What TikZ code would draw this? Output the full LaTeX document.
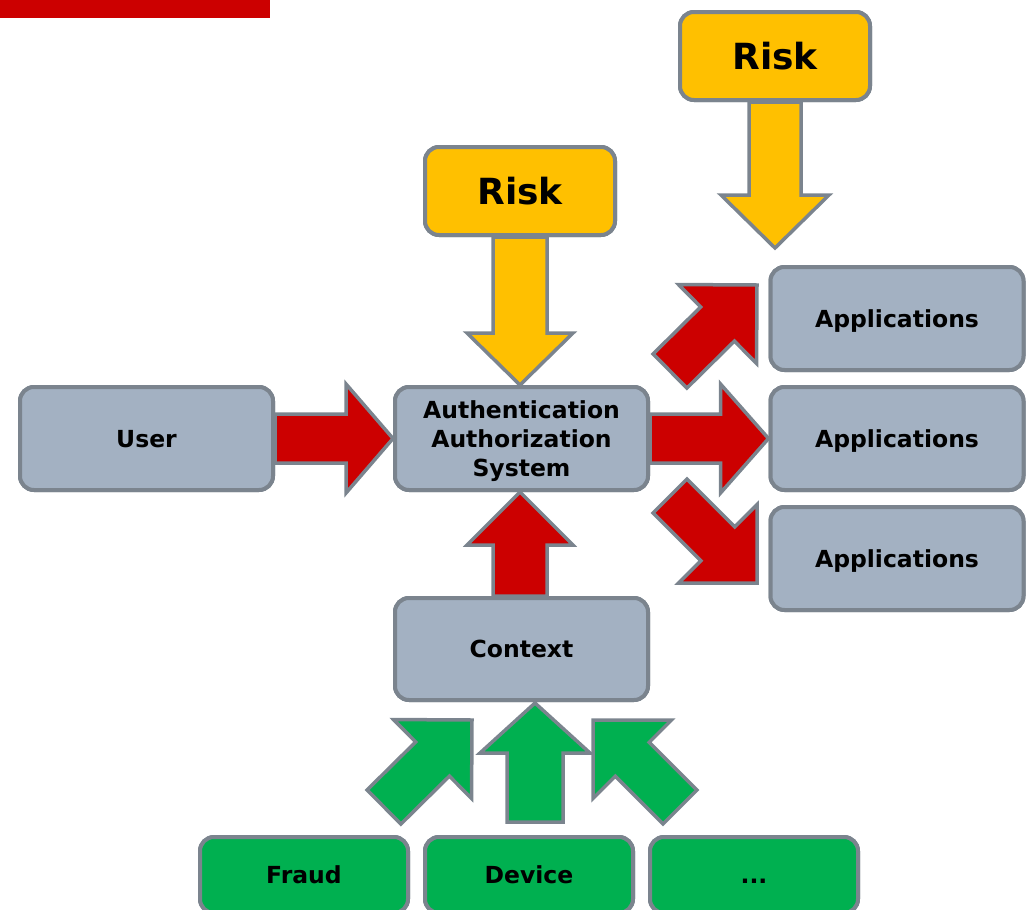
\documentclass[tikz,border=0pt]{standalone}
\usepackage{fontspec}
\setmainfont{DejaVu Sans}
\usetikzlibrary{calc}

\definecolor{boxfill}{HTML}{A3B1C2}
\definecolor{edgegrey}{HTML}{7B848E}
\definecolor{brandred}{HTML}{CC0000}
\definecolor{riskyellow}{HTML}{FFC000}
\definecolor{ctxgreen}{HTML}{00B050}

% Block arrow from #2 to #3: #1 style, #4 shaft half-width, #5 head half-width, #6 head length
\newcommand\blockarrow[6]{%
  \coordinate (ba-s) at (#2);
  \coordinate (ba-t) at (#3);
  \coordinate (ba-h) at ($(ba-t)!#6!(ba-s)$);
  \path[#1] ($(ba-s)!#4!90:(ba-t)$) -- ($(ba-h)!#4!-90:(ba-s)$) -- ($(ba-h)!#5!-90:(ba-s)$)
    -- (ba-t) -- ($(ba-h)!#5!90:(ba-s)$) -- ($(ba-h)!#4!90:(ba-s)$)
    -- ($(ba-s)!#4!-90:(ba-t)$) -- cycle;
}

% three centred lines, shifted so the middle line's capitals sit on the centre
\newcommand\threelines[3]{\raisebox{-3pt}[\height][\depth]{\begin{tabular}{@{}c@{}}#1\\#2\\#3\end{tabular}}}

\begin{document}
\begin{tikzpicture}[x=1pt,y=1pt,
  box/.style={draw=edgegrey, line width=4pt, rounded corners=14pt, fill=boxfill,
    align=center, inner sep=0pt, text height=17.2pt, text depth=0pt,
    font=\bfseries\fontsize{23.5}{29}\selectfont},
  sysbox/.style={box, minimum width=253pt, minimum height=103pt},
  riskbox/.style={box, fill=riskyellow, minimum width=190pt, minimum height=88pt,
    text height=26.3pt, font=\bfseries\fontsize{36}{40}\selectfont},
  srcbox/.style={box, fill=ctxgreen, minimum width=208pt, minimum height=76pt},
  multibox/.style={sysbox, text height=, text depth=},
  arrowbase/.style={draw=edgegrey, line width=3.5pt, line join=miter},
  redarrow/.style={arrowbase, fill=brandred},
  yellowarrow/.style={arrowbase, fill=riskyellow},
  greenarrow/.style={arrowbase, fill=ctxgreen}]

\path[use as bounding box, clip] (0,0) rectangle (1028,-910);

% title bar
\fill[brandred] (0,0) rectangle (270,-18);

% boxes (placed first so the arrows can refer to them)
\path
  (146.5,-438.5) node[sysbox] (user) {User}
  (521.5,-438.5) node[multibox] (auth) {\threelines{Authentication}{Authorization}{System}}
  (521.5,-649)   node[sysbox, minimum height=102pt] (ctx) {Context}
  (897,-318.5)   node[sysbox] (app1) {Applications}
  (897,-438.5)   node[sysbox] (app2) {Applications}
  (897,-558.5)   node[sysbox] (app3) {Applications}
  (520,-191)     node[riskbox] (risk1) {Risk}
  (775,-56)      node[riskbox] (risk2) {Risk}
  (304,-875)     node[srcbox] (fraud) {Fraud}
  (529,-875)     node[srcbox] (device) {Device}
  (754,-875)     node[srcbox] (more) {...};

% anchor points for the free arrow ends
\coordinate (r2tip) at (775,-248);
\coordinate (ctxup) at (520,-596);
\coordinate (ur-tail) at (670,-371);
\coordinate (ur-tip) at (757,-285);
\coordinate (dr-tail) at (670,-496);
\coordinate (dr-tip) at (757,-583);
\coordinate (gl-tail) at (384,-807);
\coordinate (gl-tip) at (472,-720);
\coordinate (gm-tail) at (535,-822);
\coordinate (gm-tip) at (535,-703);
\coordinate (gr-tail) at (680,-807);
\coordinate (gr-tip) at (593,-720);

% arrows
\blockarrow{redarrow}{user.east}{auth.west}{24.5pt}{54.5pt}{47pt}
\blockarrow{redarrow}{auth.east}{app2.west}{24.5pt}{54.5pt}{48pt}
\blockarrow{redarrow}{ur-tail}{ur-tip}{24pt}{55.5pt}{55.5pt}
\blockarrow{redarrow}{dr-tail}{dr-tip}{24pt}{55.5pt}{55.5pt}
\blockarrow{redarrow}{ctxup}{ctxup |- auth.south}{27pt}{53pt}{53pt}
\blockarrow{yellowarrow}{risk1.south}{risk1.south |- auth.north}{27pt}{53pt}{52pt}
\blockarrow{yellowarrow}{risk2.south}{r2tip}{26pt}{54pt}{53pt}
\blockarrow{greenarrow}{gl-tail}{gl-tip}{24pt}{55.5pt}{55.5pt}
\blockarrow{greenarrow}{gm-tail}{gm-tip}{28pt}{55pt}{50pt}
\blockarrow{greenarrow}{gr-tail}{gr-tip}{24pt}{55.5pt}{55.5pt}

% boxes again, over the arrow ends
\path
  (146.5,-438.5) node[sysbox] {User}
  (521.5,-438.5) node[multibox] {\threelines{Authentication}{Authorization}{System}}
  (521.5,-649)   node[sysbox, minimum height=102pt] {Context}
  (897,-318.5)   node[sysbox] {Applications}
  (897,-438.5)   node[sysbox] {Applications}
  (897,-558.5)   node[sysbox] {Applications}
  (520,-191)     node[riskbox] {Risk}
  (775,-56)      node[riskbox] {Risk}
  (304,-875)     node[srcbox] {Fraud}
  (529,-875)     node[srcbox] {Device}
  (754,-875)     node[srcbox] {...};
\end{tikzpicture}
\end{document}
